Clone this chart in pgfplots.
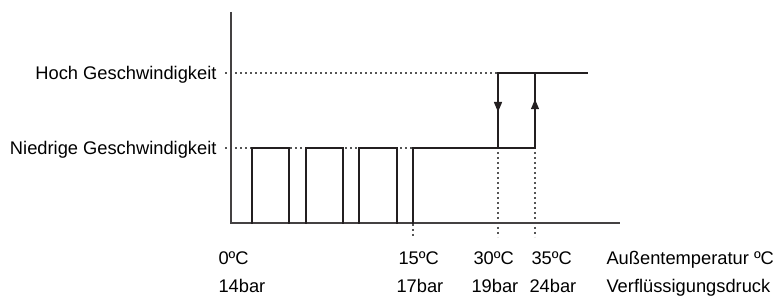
\documentclass[border=0pt]{standalone}
\usepackage{fontspec}
\setmainfont{Liberation Sans}
\usepackage{pgfplots}
\pgfplotsset{compat=1.18}
\usetikzlibrary{decorations.markings,arrows.meta}
\definecolor{ink}{HTML}{231F20}
\definecolor{guide}{HTML}{555555}
\begin{document}
\begin{tikzpicture}
\begin{axis}[name=ax, scale only axis, width=774pt, height=299pt,
  xmin=0, xmax=774, ymin=0, ymax=299, y dir=reverse,
  axis lines=none, clip=false,
  font=\fontsize{18.3}{22}\selectfont,
  every node/.style={inner sep=0pt, text=ink},
  guideline/.style={guide, line width=1.1pt, dash pattern=on 2pt off 3pt},
  sig/.style={ink, line width=1.4pt, line cap=rect},
  arr/.style={postaction={decorate}, decoration={markings, mark=at position #1 with {\arrow{Triangle[length=10pt,width=8pt]}}}}]
\addplot[draw=none] coordinates {(0,0) (774,299)};
% dotted guides
\addplot[guideline] coordinates {(225,73) (498,73)};
\addplot[guideline] coordinates {(225,148) (413,148)};
\addplot[guideline] coordinates {(413,224) (413,237)};
\addplot[guideline] coordinates {(498,152) (498,237)};
\addplot[guideline] coordinates {(535,152) (535,237)};
% axes
\addplot[ink!85, line width=2pt] coordinates {(231,12) (231,223) (620,223)};
% signal
\addplot[sig] coordinates {(252,223) (252,148) (289,148) (289,223)};
\addplot[sig] coordinates {(306,223) (306,148) (343,148) (343,223)};
\addplot[sig] coordinates {(359,223) (359,148) (397,148) (397,223)};
\addplot[sig] coordinates {(413,223) (413,148) (535,148)};
\addplot[sig] coordinates {(498,73) (587,73)};
\addplot[sig, arr=0.52] coordinates {(498,73) (498,148)};
\addplot[sig, arr=0.65] coordinates {(535,148) (535,73)};
% labels
\node[anchor=base east] at (axis cs:220,79.5) {Hoch Geschwindigkeit};
\node[anchor=base east] at (axis cs:220,154.5) {Niedrige Geschwindigkeit};
\node[anchor=base west] at (axis cs:215,265) {0ºC};
\node[anchor=base west] at (axis cs:395,265) {15ºC};
\node[anchor=base west] at (axis cs:470,265) {30ºC};
\node[anchor=base west] at (axis cs:528,265) {35ºC};
\node[anchor=base west] at (axis cs:603,265) {Außentemperatur ºC};
\node[anchor=base west] at (axis cs:215,292) {14bar};
\node[anchor=base west] at (axis cs:393,292) {17bar};
\node[anchor=base west] at (axis cs:468,292) {19bar};
\node[anchor=base west] at (axis cs:526,292) {24bar};
\node[anchor=base west] at (axis cs:603,292) {Verflüssigungsdruck};
\end{axis}
\pgfresetboundingbox
\path (ax.south west) rectangle (ax.north east);
\end{tikzpicture}
\end{document}
